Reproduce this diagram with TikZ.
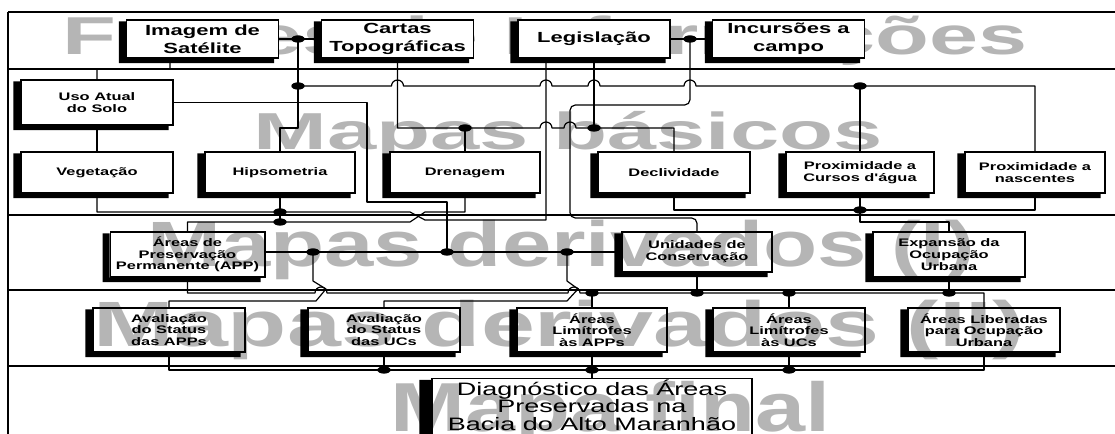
\documentclass[tikz,border=0pt]{standalone}
\usepackage{fontspec}
\usepackage{tikz}
\usetikzlibrary{shapes.geometric}
\newfontfamily\boxfont[FakeStretch=1.5]{Liberation Sans Bold}
\newfontfamily\finalfont[FakeStretch=1.5]{Liberation Sans}
\newfontfamily\markfont{Liberation Sans Bold}
\definecolor{MarkGray}{HTML}{B5B5B5}
\tikzset{
  band/.style={line width=1.2pt},
  wire/.style={line width=0.9pt, line join=round},
  junction/.style={ellipse, fill=black, inner sep=0pt, minimum width=10pt, minimum height=5.5pt},
  srcbox/.style={draw, line width=1pt, fill=white, align=center, inner sep=0pt, minimum width=114pt, minimum height=28.5pt, font=\boxfont\fontsize{11}{13.5}\selectfont},
  basebox/.style={draw, line width=1pt, fill=white, align=center, inner sep=0pt, minimum width=114pt, minimum height=30.75pt, font=\boxfont\fontsize{8.2}{8.8}\selectfont},
  derivbox/.style={draw, line width=1pt, align=center, inner sep=0pt, minimum width=114pt, minimum height=33pt, font=\boxfont\fontsize{8.2}{8.8}\selectfont},
  finalbox/.style={draw, line width=1pt, inner sep=0pt, minimum width=240pt, minimum height=60pt, anchor=north},
  finaltext/.style={align=center, inner sep=0pt, anchor=north, font=\finalfont\fontsize{13.5}{13.2}\selectfont},
  watermark/.style={anchor=base west, inner sep=0pt, text=MarkGray}
}
\newcommand{\hop}[2]{-- (#1-6,#2) arc[start angle=180, end angle=360, radius=6]}
\newcommand{\boxshadow}[2][5.25pt]{%
  \fill ([xshift=-#1,yshift=-1.5pt]#2.north west) -- ([yshift=-1.5pt]#2.north west) -- (#2.south west)
    -- ([xshift=-3.75pt]#2.south east) -- ([xshift=-3.75pt,yshift=-3.4pt]#2.south east)
    -- ([xshift=-#1,yshift=-3.4pt]#2.south west) -- cycle;}

\begin{document}
\begin{tikzpicture}[x=0.75pt, y=-0.75pt]
\useasboundingbox (0,0) rectangle (1115,434);
\clip (0,0) rectangle (1115,434);

% titles of the bands
\node[watermark, font=\markfont\fontsize{40}{40}\selectfont] (wmsrc) at (62,55) {\resizebox{723.75pt}{\height}{Fontes de Informações}};
\node[watermark, font=\markfont\fontsize{39}{39}\selectfont] (wmbase) at (253,150) {\resizebox{472.5pt}{\height}{Mapas básicos}};
\node[watermark, font=\markfont\fontsize{48}{48}\selectfont] (wmderiv) at (147,267) {\resizebox{621pt}{\height}{Mapas derivados (I)}};
\node[watermark, font=\markfont\fontsize{48}{48}\selectfont] (wmderivb) at (93,347) {\resizebox{699pt}{\height}{Mapas derivados (II)}};
\node[watermark, font=\markfont\fontsize{52}{52}\selectfont] (wmfinal) at (390,432) {\resizebox{330pt}{\height}{Mapa final}};

\foreach \y in {12,69,215,290,366} \draw[band] (8,\y) -- (1115,\y);
\draw[band] (8,12) -- (8,434);

\node[srcbox] (sat) at (202.5,39) {Imagem de\\Satélite};
\node[srcbox] (cartas) at (397.5,39) {Cartas\\Topográficas};
\node[srcbox] (leg) at (594,39) {Legislação};
\node[srcbox] (inc) at (788.5,39) {Incursões a\\campo};

\node[basebox, minimum height=33.75pt] (uso) at (97,102.5) {Uso Atual\\do Solo};
\node[basebox] (veg) at (97,172.5) {Vegetação};
\node[basebox, minimum width=112.5pt] (hipso) at (280,172.5) {Hipsometria};
\node[basebox, minimum width=112.5pt] (dren) at (465,172.5) {Drenagem};
\node[basebox] (decl) at (674,172.5) {Declividade};
\node[basebox, minimum width=111pt] (pc) at (860,172.5) {Proximidade a\\Cursos d'água};
\node[basebox, minimum width=105pt] (nasc) at (1035,172.5) {Proximidade a\\nascentes};

\node[derivbox, minimum width=116pt, minimum height=33.75pt] (app) at (187.5,254.5) {Áreas de\\Preservação\\Permanente (APP)};
\node[derivbox, minimum width=112.5pt, minimum height=30pt] (uc) at (697,252) {Unidades de\\Conservação};
\node[derivbox, minimum height=33.75pt] (exp) at (949,254.5) {Expansão da\\Ocupação\\Urbana};

\node[derivbox] (avapp) at (169,330) {Avaliação\\do Status\\das APPs};
\node[derivbox] (avuc) at (384,330) {Avaliação\\do Status\\das UCs};
\node[derivbox, minimum width=112.5pt] (limapp) at (592,330) {Áreas\\Limítrofes\\às APPs};
\node[derivbox] (limuc) at (789,330) {Áreas\\Limítrofes\\às UCs};
\node[derivbox] (legais) at (984,330) {Áreas Liberadas\\para Ocupação\\Urbana};

\node[finalbox] (fin) at (592,378) {};
\node[finaltext] (fintext) at ([yshift=-1pt]fin.north) {Diagnóstico das Áreas\\Preservadas na\\Bacia do Alto Maranhão};

\foreach \b in {sat,cartas,leg,inc,uso,veg,hipso,dren,decl,pc,nasc,app,uc,exp,avapp,avuc,limapp,limuc,legais} {\boxshadow{\b}}
\boxshadow[9pt]{fin}

\node[junction] (jsat) at (298,39) {};
\node[junction] (jprox) at (298,86) {};
\node[junction] (jcursos) at (860,86) {};
\node[junction] (jdren) at (465,128) {};
\node[junction] (jdecl) at (594,128) {};
\node[junction] (jleg) at (690,39) {};
\node[junction] (jveg) at (280,212) {};
\node[junction] (japp) at (280,222) {};
\node[junction] (jexp) at (860,210) {};
\node[junction] (jav) at (313,252) {};
\node[junction] (juso) at (447,252) {};
\node[junction] (javuc) at (567,252) {};
\node[junction] (jlimapp) at (592,293) {};
\node[junction] (juc) at (697,293) {};
\node[junction] (jlimuc) at (789,293) {};
\node[junction] (jexpb) at (949,293) {};
\node[junction] (jfa) at (384,370) {};
\node[junction] (jfin) at (592,370) {};
\node[junction] (jfb) at (789,370) {};

\draw[wire] (sat.east) -- (jsat.center) -- (cartas.west);
\draw[wire] (jsat.center) -- (jprox.center) -- (298,128) -- (hipso.north |- 0,128) -- (hipso.north);
\draw[wire] (jprox.center) \hop{397.5}{86} \hop{546}{86} \hop{594}{86} \hop{690}{86} -- (jcursos.center) -- (nasc.north |- jcursos) -- (nasc.north);
\draw[wire] (jcursos.center) -- (pc.north);
\draw[wire] ([xshift=-24.4pt]sat.south) -- (170,69) -- (uso.north |- 0,69) -- (uso.north);
\draw[wire] (uso.south) -- (veg.north);
\draw[wire] (uso.east) -- (367,102.5) -- (367,202) -- (447,202) -- (juso.center);
\draw[wire] (cartas.south) -- (cartas.south |- jdren) -- (jdren.center) \hop{546}{128} \hop{570}{128} -- (jdecl.center) -- (decl.north |- jdecl) -- (decl.north);
\draw[wire] (jdren.center) -- (dren.north);
\draw[wire] (leg.south) -- (jdecl.center);
\draw[wire] ([xshift=-36pt]leg.south) -- (546,220) -- (425,220) -- (410,212) -- (jveg.center) -- (veg.south |- jveg) -- (veg.south);
\draw[wire] (dren.south) -- (465,212) -- (425,212) -- (410,222) -- (japp.center) -- (app.north |- japp) -- (app.north);
\draw[wire] (hipso.south) -- (jveg.center) -- (japp.center);
\draw[wire] (leg.east) -- (jleg.center) -- (inc.west);
\draw[wire, rounded corners=4pt] (jleg.center) -- (690,105) -- (570,105) -- (570,218) -- (uc.north |- 0,218) -- (uc.north);
\draw[wire] (decl.south) -- (decl.south |- jexp) -- (jexp.center) -- (nasc.south |- jexp) -- (nasc.south);
\draw[wire] (pc.south) -- (jexp.center) -- (860,222) -- (exp.north |- 0,222) -- (exp.north);
\draw[wire] (app.east |- jav) -- (jav.center) -- (juso.center) -- (javuc.center) -- (uc.west);
\draw[wire] (jav.center) -- (313,281) -- (326,289) -- (316,301) -- (avapp.north |- 0,301) -- (avapp.north);
\draw[wire] (javuc.center) -- (567,281) -- (578,289) -- (567,301) -- (avuc.north |- 0,301) -- (avuc.north);
\draw[wire] (app.south) -- (app.south |- jlimapp) \hop{321}{293} \hop{574}{293} -- (jlimapp.center) -- (juc.center) -- (jlimuc.center) -- (jexpb.center) -- (legais.north |- jexpb) -- (legais.north);
\draw[wire] (jlimapp.center) -- (limapp.north);
\draw[wire] (uc.south) -- (juc.center);
\draw[wire] (jlimuc.center) -- (limuc.north);
\draw[wire] (exp.south) -- (jexpb.center);
\draw[wire] (avapp.south) -- (avapp.south |- jfa) -- (jfa.center) -- (jfin.center) -- (jfb.center) -- (legais.south |- jfb) -- (legais.south);
\draw[wire] (avuc.south) -- (jfa.center);
\draw[wire] (limapp.south) -- (jfin.center) -- (fin.north);
\draw[wire] (limuc.south) -- (jfb.center);
\end{tikzpicture}
\end{document}
